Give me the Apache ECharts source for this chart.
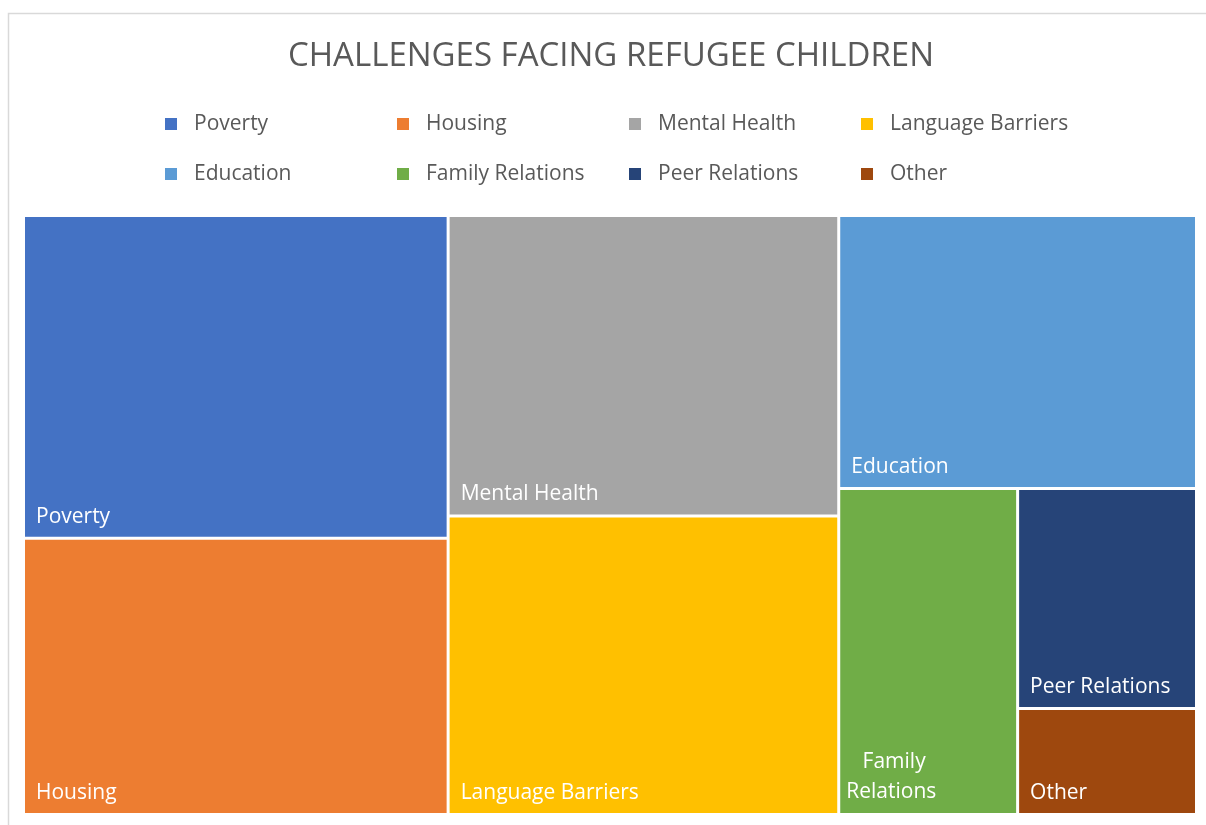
<!DOCTYPE html>
<html>
<head>
<meta charset="utf-8">
<title>Challenges Facing Refugee Children</title>
<script src="https://cdn.jsdelivr.net/npm/echarts@6/dist/echarts.min.js"></script>
<style>
  html, body { margin: 0; padding: 0; background: #fff; }
  #chart { width: 1206px; height: 825px; }
</style>
</head>
<body>
<div id="chart"></div>
<script>
const categories = [
  "Poverty",
  "Housing",
  "Mental Health",
  "Language Barriers",
  "Education",
  "Family Relations",
  "Peer Relations",
  "Other",
];
const values = [19.5, 16.7, 16.7, 16.6, 13.9, 8.3, 5.6, 2.7];
const colors = [
  "#4472C4",
  "#ED7D31",
  "#A5A5A5",
  "#FFC000",
  "#5B9BD5",
  "#70AD47",
  "#264478",
  "#9E480E",
];

const FONT = "Open Sans";

var myChart = echarts.init(document.getElementById("chart"));

const treeData = categories.map((name, i) => {
  const item = {
    name: name,
    value: values[i],
    itemStyle: { color: colors[i] },
  };
  // Excel wraps this one on two lines, first line pushed in a bit
  if (name === "Family Relations") {
    item.label = {
      formatter: "   Family\nRelations",
      lineHeight: 30,
      distance: 1,
    };
  }
  return item;
});

var option = {
  animation: false,
  graphic: [
    {
      type: "rect",
      shape: { x: 8.5, y: 13.5, width: 1220, height: 840 },
      style: { fill: "none", stroke: "#d9d9d9", lineWidth: 1.5 },
      silent: true,
    },
  ],
  title: {
    text: "CHALLENGES FACING REFUGEE CHILDREN",
    left: 611,
    top: 40,
    textAlign: "center",
    padding: 0,
    textStyle: {
      fontFamily: FONT,
      fontSize: 33,
      fontWeight: "normal",
      color: "#595959",
    },
  },
  legend: {
    data: categories,
    left: 165,
    top: 108,
    width: 930,
    padding: 0,
    orient: "horizontal",
    itemWidth: 12,
    itemHeight: 12,
    itemGap: 18,
    icon: "rect",
    selectedMode: false,
    textStyle: {
      fontFamily: FONT,
      fontSize: 21,
      color: "#595959",
      width: 185,
      lineHeight: 32,
      padding: [0, 0, 0, 12],
    },
  },
  series: [
    {
      // invisible pie only feeds the legend with names and colours
      type: "pie",
      radius: [0, 0],
      silent: true,
      label: { show: false },
      labelLine: { show: false },
      showEmptyCircle: false,
      data: categories.map((name, i) => ({
        name: name,
        value: values[i],
        itemStyle: { color: colors[i] },
      })),
    },
    {
      type: "treemap",
      left: 25,
      top: 217,
      width: 1170,
      height: 596,
      roam: false,
      nodeClick: false,
      sort: false,
      squareRatio: 1,
      breadcrumb: { show: false },
      silent: true,
      label: {
        show: true,
        position: "insideBottomLeft",
        distance: 6,
        color: "#fff",
        fontSize: 21,
        lineHeight: 18,
        fontFamily: FONT,
      },
      upperLabel: { show: false },
      itemStyle: { borderWidth: 0 },
      levels: [
        { itemStyle: { gapWidth: 3, borderColor: "#fff", borderWidth: 0 } },
        { itemStyle: { borderWidth: 0 } },
      ],
      data: treeData,
    },
  ],
};

option && myChart.setOption(option);
</script>
</body>
</html>
